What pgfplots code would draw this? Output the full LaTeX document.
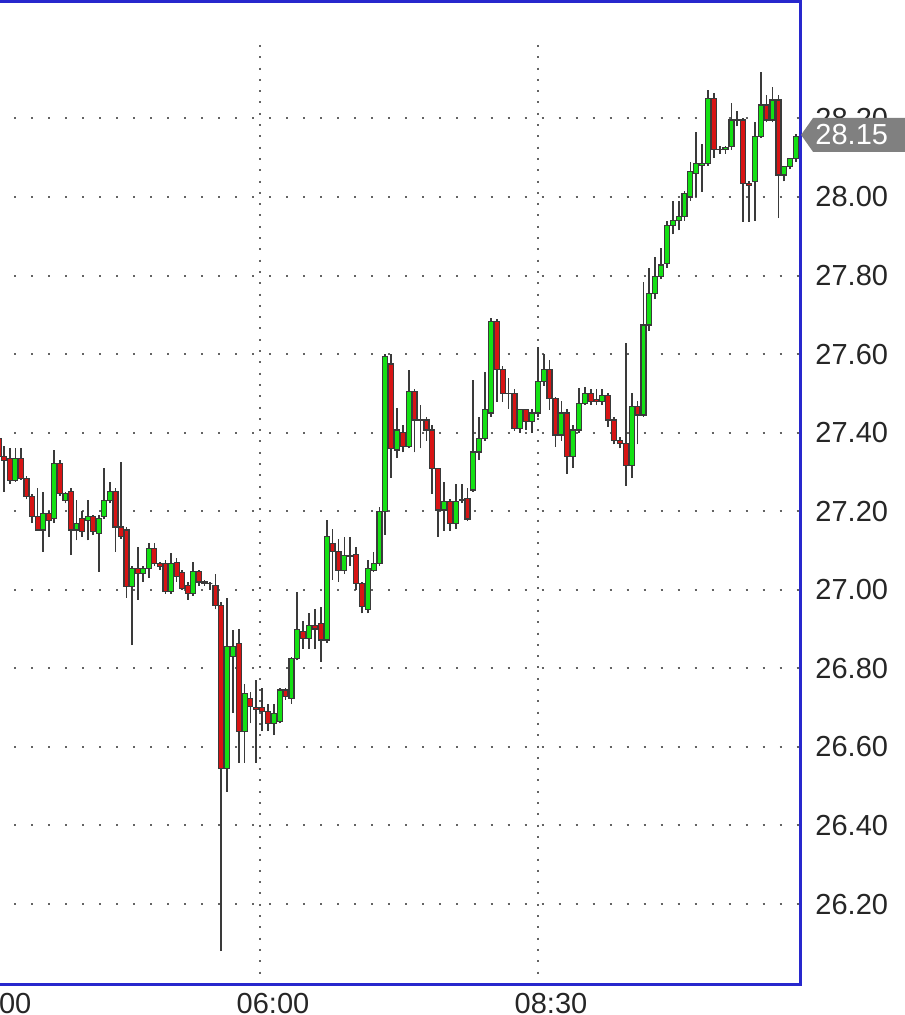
\documentclass[border=0pt]{standalone}
\usepackage{pgfplots}
\pgfplotsset{compat=1.18}
\usepackage{pgfplotstable}
\usepackage{fontspec}
\setmainfont{Liberation Sans}
\definecolor{cgreen}{RGB}{20,225,20}
\definecolor{cred}{RGB}{215,20,20}
\definecolor{cdark}{RGB}{58,58,58}
\definecolor{frameblue}{RGB}{40,40,205}
\definecolor{gridgray}{RGB}{100,100,100}
\definecolor{taggray}{RGB}{128,128,128}

\pgfdeclareplotmark{candle}{%
  \begingroup
  \pgfkeys{/pgf/fpu=true,/pgf/fpu/output format=fixed}%
  \pgfmathparse{(\cH-\cC)*196.4}\global\let\dH\pgfmathresult
  \pgfmathparse{(\cL-\cC)*196.4}\global\let\dL\pgfmathresult
  \pgfmathparse{(\cO-\cC)*196.4}\global\let\dO\pgfmathresult
  \endgroup
  \pgfsetlinewidth{0.85pt}%
  \pgfsetstrokecolor{cdark}%
  \pgfpathmoveto{\pgfqpoint{0pt}{\dL pt}}%
  \pgfpathlineto{\pgfqpoint{0pt}{\dH pt}}%
  \pgfusepathqstroke
  \ifdim\dO pt>0pt \pgfsetfillcolor{cred}\else\pgfsetfillcolor{cgreen}\fi
  \pgfsetlinewidth{0.6pt}%
  \pgfpathrectangle{\pgfqpoint{-1.25pt}{0pt}}{\pgfqpoint{2.5pt}{\dO pt}}%
  \pgfusepathqfillstroke
}

\pgfplotstableread{
t o h l c
219 27.385 27.410 27.330 27.340
222 27.340 27.365 27.250 27.330
225 27.334 27.360 27.270 27.279
228 27.279 27.360 27.275 27.334
231 27.334 27.360 27.280 27.283
234 27.283 27.290 27.230 27.237
237 27.237 27.245 27.170 27.186
240 27.186 27.260 27.150 27.152
243 27.152 27.250 27.097 27.194
246 27.194 27.200 27.135 27.177
249 27.182 27.355 27.170 27.322
252 27.322 27.330 27.240 27.245
255 27.228 27.250 27.220 27.245
258 27.250 27.260 27.088 27.152
261 27.152 27.228 27.126 27.169
264 27.182 27.200 27.135 27.148
267 27.177 27.228 27.126 27.186
270 27.186 27.190 27.140 27.148
273 27.143 27.190 27.046 27.182
276 27.186 27.310 27.180 27.228
279 27.228 27.275 27.220 27.250
282 27.250 27.260 27.097 27.160
285 27.160 27.326 27.130 27.135
288 27.152 27.160 26.980 27.008
291 27.008 27.060 26.859 27.054
294 27.054 27.109 26.974 27.042
297 27.042 27.060 27.020 27.054
300 27.054 27.120 27.030 27.105
303 27.105 27.120 27.060 27.067
306 27.067 27.070 27.050 27.060
309 27.067 27.075 26.990 26.995
312 26.995 27.093 26.990 27.067
315 27.070 27.080 27.020 27.033
318 27.045 27.050 27.000 27.003
321 27.010 27.020 26.974 26.991
324 26.991 27.071 26.985 27.046
327 27.046 27.050 27.010 27.020
330 27.020 27.025 27.010 27.015
333 27.015 27.020 27.000 27.015
336 27.010 27.040 26.950 26.960
339 26.960 26.970 26.080 26.545
342.2 26.545 26.980 26.486 26.855
345.3 26.830 26.898 26.686 26.855
348.5 26.864 26.900 26.560 26.639
351.7 26.639 26.760 26.560 26.736
354.8 26.723 26.740 26.660 26.702
358.0 26.700 26.770 26.560 26.695
361.2 26.700 26.750 26.640 26.690
364.3 26.690 26.710 26.640 26.660
367.5 26.660 26.710 26.630 26.685
370.7 26.665 26.750 26.660 26.745
373.8 26.745 26.750 26.720 26.728
377.0 26.724 26.830 26.710 26.826
380.1 26.826 26.995 26.820 26.898
383.3 26.893 26.920 26.850 26.876
386.5 26.876 26.940 26.850 26.910
389.6 26.910 26.950 26.850 26.900
392.8 26.915 26.957 26.817 26.872
396.0 26.872 27.178 26.865 27.135
399.1 27.118 27.156 27.025 27.097
402.3 27.097 27.130 27.020 27.050
405.5 27.050 27.135 27.040 27.088
408.6 27.088 27.135 27.060 27.085
411.8 27.090 27.110 27.000 27.016
415.0 27.016 27.020 26.940 26.957
418.1 26.950 27.075 26.940 27.054
421.3 27.050 27.097 27.045 27.067
424.5 27.067 27.210 27.060 27.200
427.6 27.200 27.600 27.140 27.593
430.8 27.575 27.600 27.285 27.360
434.0 27.356 27.462 27.335 27.407
437.1 27.400 27.420 27.350 27.364
440.3 27.364 27.560 27.360 27.504
443.4 27.504 27.510 27.350 27.432
446.6 27.432 27.470 27.360 27.430
449.8 27.432 27.440 27.380 27.407
452.9 27.407 27.420 27.245 27.309
456.1 27.309 27.310 27.135 27.203
459.3 27.203 27.275 27.150 27.224
462.4 27.224 27.230 27.150 27.169
465.6 27.169 27.270 27.155 27.224
468.8 27.230 27.270 27.220 27.228
471.9 27.233 27.260 27.175 27.180
475.1 27.254 27.534 27.250 27.351
478.3 27.351 27.440 27.330 27.385
481.4 27.385 27.555 27.380 27.458
484.6 27.450 27.691 27.440 27.683
487.8 27.683 27.690 27.479 27.560
490.9 27.560 27.570 27.479 27.500
494.1 27.500 27.540 27.460 27.500
497.3 27.500 27.510 27.405 27.410
500.4 27.410 27.460 27.400 27.458
503.6 27.458 27.460 27.407 27.428
506.7 27.428 27.460 27.400 27.450
509.9 27.450 27.619 27.440 27.530
513.1 27.530 27.600 27.520 27.560
516.2 27.560 27.585 27.458 27.487
519.4 27.487 27.490 27.364 27.394
522.6 27.394 27.480 27.380 27.450
525.7 27.450 27.460 27.296 27.339
528.9 27.339 27.420 27.310 27.407
532.1 27.407 27.513 27.400 27.475
535.2 27.475 27.517 27.470 27.500
538.4 27.500 27.510 27.470 27.480
541.6 27.485 27.510 27.470 27.480
544.7 27.480 27.510 27.470 27.495
547.9 27.495 27.500 27.415 27.432
551.1 27.432 27.440 27.370 27.381
554.2 27.381 27.390 27.360 27.372
557.4 27.372 27.627 27.265 27.317
560.6 27.317 27.500 27.284 27.466
563.7 27.466 27.480 27.370 27.445
566.9 27.445 27.784 27.440 27.674
570.0 27.674 27.818 27.660 27.754
573.2 27.754 27.848 27.740 27.797
576.4 27.797 27.870 27.790 27.827
579.5 27.830 27.940 27.820 27.928
582.7 27.928 27.990 27.905 27.940
585.9 27.940 27.990 27.915 27.950
589.0 27.950 28.015 27.940 28.009
592.2 28.000 28.090 27.990 28.064
595.4 28.060 28.166 28.000 28.085
598.5 28.080 28.136 28.013 28.085
601.7 28.085 28.272 28.080 28.251
604.9 28.251 28.264 28.100 28.120
608.0 28.120 28.130 28.110 28.120
611.2 28.120 28.130 28.110 28.125
614.4 28.128 28.238 28.120 28.196
617.5 28.196 28.220 28.180 28.196
620.7 28.196 28.200 27.937 28.035
623.9 28.035 28.040 27.937 28.030
627.0 28.040 28.190 27.940 28.153
630.2 28.153 28.319 28.150 28.234
633.3 28.234 28.260 28.190 28.196
636.5 28.196 28.280 28.190 28.247
639.7 28.247 28.260 27.946 28.056
642.8 28.056 28.080 28.040 28.077
646.0 28.077 28.100 28.070 28.098
649.2 28.098 28.160 28.090 28.153
}\candles

\begin{document}
\begin{tikzpicture}
\begin{axis}[
  x=0.92665pt, y=196.4pt,
  xmin=200, xmax=651.4,
  ymin=25.994, ymax=28.4977,
  axis line style={draw=frameblue, line width=1.5pt},
  major tick length=0pt,
  tick style={draw=none},
  xtick={210,360,510},
  xticklabels={04:00,06:00,08:30},
  ytick={26.2,26.4,26.6,26.8,27,27.2,27.4,27.6,27.8,28,28.2},
  yticklabel pos=right,
  ymajorgrids,
  grid style={draw=gridgray, line width=1pt, dash pattern=on 1pt off 7.5pt},
  /pgf/number format/assume math mode=true,
  y tick label style={/pgf/number format/fixed, /pgf/number format/fixed zerofill, /pgf/number format/precision=2, anchor=west, inner sep=0pt, xshift=7.5pt},
  x tick label style={anchor=north, inner sep=0pt, yshift=-4.2pt, xshift=6.5pt},
  tick label style={font=\fontsize{14.5pt}{17pt}\selectfont, text=black!85},
]
\draw[draw=gridgray, line width=1pt, dash pattern=on 1pt off 4.65pt] (axis cs:360,28.387) -- (axis cs:360,26.019);
\draw[draw=gridgray, line width=1pt, dash pattern=on 1pt off 4.65pt] (axis cs:510,28.387) -- (axis cs:510,26.019);
\addplot[
  only marks, mark=candle, scatter,
  scatter/@pre marker code/.code={},
  scatter/@post marker code/.code={},
  visualization depends on={\thisrow{o} \as \cO},
  visualization depends on={\thisrow{h} \as \cH},
  visualization depends on={\thisrow{l} \as \cL},
  visualization depends on={\thisrow{c} \as \cC},
] table[x=t, y=c] {\candles};
\coordinate (tl) at (axis cs:219.7,28.5015);
\coordinate (br) at (axis cs:707.5,25.9175);
\coordinate (tag) at (axis cs:651.4,28.158);
\end{axis}
\fill[taggray] ([xshift=0.5pt]tag) -- ++(6pt,8.5pt) -- ++(60pt,0pt) -- ++(0pt,-17pt) -- ++(-60pt,0pt) -- cycle;
\node[anchor=west, inner sep=0pt, text=white, font=\fontsize{14.5pt}{17pt}\selectfont] at ([xshift=7.5pt]tag) {28.15};
\pgfresetboundingbox
\useasboundingbox (tl) rectangle (br);
\end{tikzpicture}
\end{document}
